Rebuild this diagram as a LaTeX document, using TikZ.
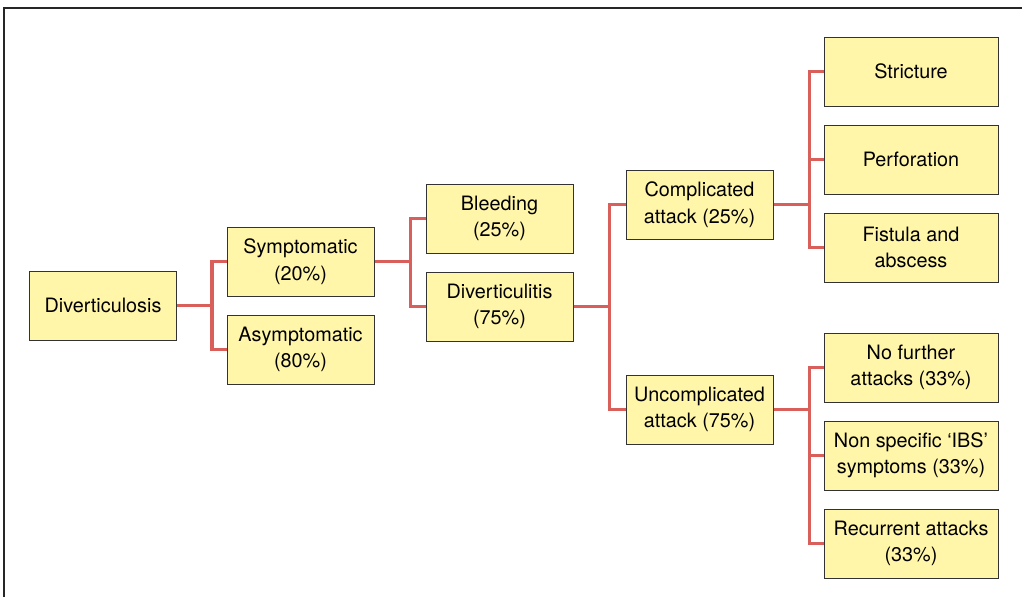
\documentclass[tikz,border=0pt]{standalone}
\usepackage{fontspec}
\setmainfont{TeX Gyre Heros}
\usetikzlibrary{positioning}
\definecolor{boxyel}{RGB}{255,246,170}
\definecolor{linkred}{RGB}{217,96,90}
\begin{document}
\begin{tikzpicture}[x=1pt, y=-1pt, font=\fontsize{19.8}{26.5}\selectfont,
	bx/.style={draw=black!80, line width=1pt, fill=boxyel, align=center,
	inner sep=0pt, minimum width=147pt, minimum height=69pt},
	wbx/.style={bx, minimum width=174pt},
	link/.style={draw=linkred, line width=3.2pt}]
\useasboundingbox (0,0) rectangle (1022,597);
\draw[black!85, line width=1.5pt] (4,597) -- (4,8) -- (1022,8);
\node[bx] (dvs) at (103, 305.5) {Diverticulosis};
\node[bx] (sym) at (300.5, 261.5) {Symptomatic\\(20\%)};
\node[bx] (asy) at (300.5, 349.5) {Asymptomatic\\(80\%)};
\node[bx] (ble) at (499.5, 218.5) {Bleeding\\(25\%)};
\node[bx] (dvt) at (499.5, 306.5) {Diverticulitis\\(75\%)};
\node[bx] (cmp) at (699.5, 204.5) {Complicated\\attack (25\%)};
\node[bx] (unc) at (699.5, 409.5) {Uncomplicated\\attack (75\%)};
\node[wbx] (str) at (911, 71.5) {Stricture};
\node[wbx] (per) at (911, 159.5) {Perforation};
\node[wbx] (fis) at (911, 247.5) {Fistula and\\abscess};
\node[wbx] (nof) at (911, 367.5) {No further\\attacks (33\%)};
\node[wbx] (nsp) at (911, 455.5) {Non specific ‘IBS’\\symptoms (33\%)};
\node[wbx] (rec) at (911, 543.5) {Recurrent attacks\\(33\%)};
% branches
\draw[link] (dvs.east) -- ++(35,0) |- (sym.west);
\draw[link] (dvs.east) -- ++(35,0) |- (asy.west);
\draw[link] (sym.east) -- ++(36,0) |- (ble.west);
\draw[link] (sym.east) -- ++(36,0) |- (dvt.west);
\draw[link] (dvt.east) -- ++(36,0) |- (cmp.west);
\draw[link] (dvt.east) -- ++(36,0) |- (unc.west);
\draw[link] (cmp.east) -- ++(36,0) |- (str.west);
\draw[link] (cmp.east) -- ++(36,0) |- (per.west);
\draw[link] (cmp.east) -- ++(36,0) |- (fis.west);
\draw[link] (unc.east) -- ++(36,0) |- (nof.west);
\draw[link] (unc.east) -- ++(36,0) |- (nsp.west);
\draw[link] (unc.east) -- ++(36,0) |- (rec.west);
\end{tikzpicture}
\end{document}
